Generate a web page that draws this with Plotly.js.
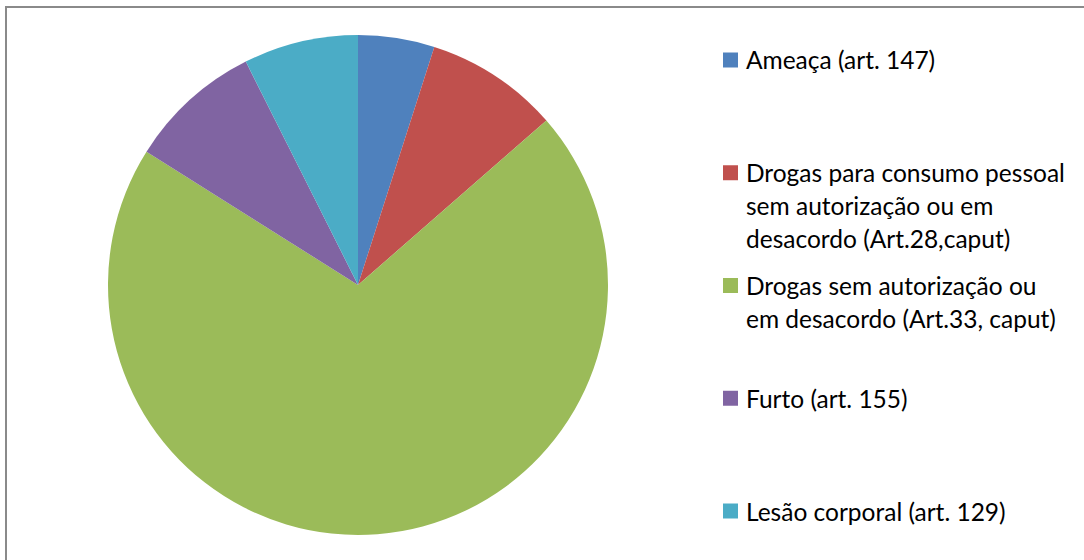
<!DOCTYPE html>
<html>
<head>
<meta charset="utf-8">
<script src="https://cdn.plot.ly/plotly-3.0.1.min.js"></script>
<style>
  html, body { margin: 0; padding: 0; background: #ffffff; }
  #frame { position: absolute; left: 5px; top: 6px; width: 1200px; height: 700px;
           border-left: 2px solid #8a8a8a; border-top: 2px solid #8a8a8a; pointer-events: none; z-index: 2; }
  #chart { position: absolute; left: 0; top: 0; width: 1084px; height: 560px; z-index: 1; }
</style>
</head>
<body>
<div id="frame"></div>
<div id="chart"></div>
<script>
// Data
const categories = [
  "Ameaça (art. 147)",
  "Drogas para consumo pessoal<br>sem autorização ou em<br>desacordo (Art.28,caput)",
  "Drogas sem autorização ou<br>em desacordo (Art.33, caput)",
  "Furto (art. 155)",
  "Lesão corporal (art. 129)"
];
const values = [4, 7, 57, 7, 6];
const colors = ["#4F81BD", "#C0504D", "#9BBB59", "#8064A2", "#4BACC6"];

const W = 1084, H = 560;
const cx = 358, cy = 285, R = 250;

// Legend built from the category labels
const legendFont = { family: "Lato, 'Open Sans', sans-serif", size: 24.5, color: "#000000" };
const legendTop = 60, legendPitch = 112.75, lineGap = 33;
const swX0 = 723, swSize = 15, textX = 744;

const annotations = [];
const shapes = [];
categories.forEach((lab, i) => {
  const yc = legendTop + i * legendPitch;
  shapes.push({
    type: "rect", xref: "paper", yref: "paper",
    x0: swX0 / W, x1: (swX0 + swSize) / W,
    y0: 1 - (yc + swSize / 2) / H, y1: 1 - (yc - swSize / 2) / H,
    fillcolor: colors[i], line: { width: 0 }
  });
  lab.split("<br>").forEach((line, k) => {
    annotations.push({
      xref: "paper", yref: "paper",
      x: textX / W, y: 1 - (yc + k * lineGap) / H,
      xanchor: "left", yanchor: "middle",
      text: line, showarrow: false, font: legendFont
    });
  });
});

const trace = {
  type: "pie",
  labels: categories.map(c => c.replace(/<br>/g, " ")),
  values: values,
  marker: { colors: colors, line: { width: 0 } },
  sort: false,
  direction: "clockwise",
  rotation: 0,
  textinfo: "none",
  hoverinfo: "label+value+percent",
  domain: { x: [(cx - R) / W, (cx + R) / W], y: [(H - cy - R) / H, (H - cy + R) / H] },
  showlegend: false
};

const layout = {
  width: W, height: H,
  margin: { l: 0, r: 0, t: 0, b: 0 },
  paper_bgcolor: "#ffffff",
  showlegend: false,
  annotations: annotations,
  shapes: shapes
};

Plotly.newPlot("chart", [trace], layout, { displayModeBar: false, staticPlot: false });
</script>
</body>
</html>
